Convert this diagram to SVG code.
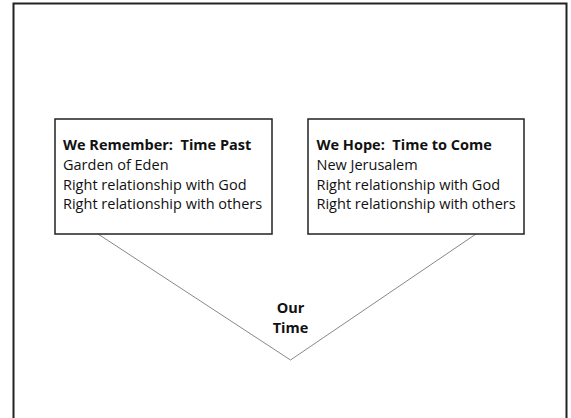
<svg xmlns="http://www.w3.org/2000/svg" width="571" height="418" viewBox="0 0 571 418">
<style>
.box{fill:#fff;stroke:#222;stroke-width:1.5}
.t{font-family:"Open Sans","Liberation Sans",sans-serif;font-size:14.5px;fill:#111;white-space:pre}
.b{font-weight:bold}
.conn{fill:none;stroke:#888;stroke-width:1}
</style>
<rect x="0" y="0" width="571" height="418" fill="#fff"/>
<rect id="frame" x="13.5" y="3.5" width="553" height="430" fill="none" stroke="#222" stroke-width="2"/>
<g id="connectors">
<polyline class="conn" points="98,234 290.5,360 476,234"/>
</g>
<g id="past">
<rect class="box" x="55" y="119" width="217" height="115"/>
<text class="t b" x="63" y="150" xml:space="preserve">We Remember:  Time Past</text>
<text class="t" x="63" y="170">Garden of Eden</text>
<text class="t" x="63" y="190">Right relationship with God</text>
<text class="t" x="63" y="209">Right relationship with others</text>
</g>
<g id="future">
<rect class="box" x="308" y="119" width="216" height="115"/>
<text class="t b" x="316.5" y="150" xml:space="preserve">We Hope:  Time to Come</text>
<text class="t" x="316.5" y="170">New Jerusalem</text>
<text class="t" x="316.5" y="190">Right relationship with God</text>
<text class="t" x="316.5" y="209">Right relationship with others</text>
</g>
<g id="present">
<text class="t b" x="290.5" y="313" text-anchor="middle">Our</text>
<text class="t b" x="290.5" y="333" text-anchor="middle">Time</text>
</g>
</svg>
